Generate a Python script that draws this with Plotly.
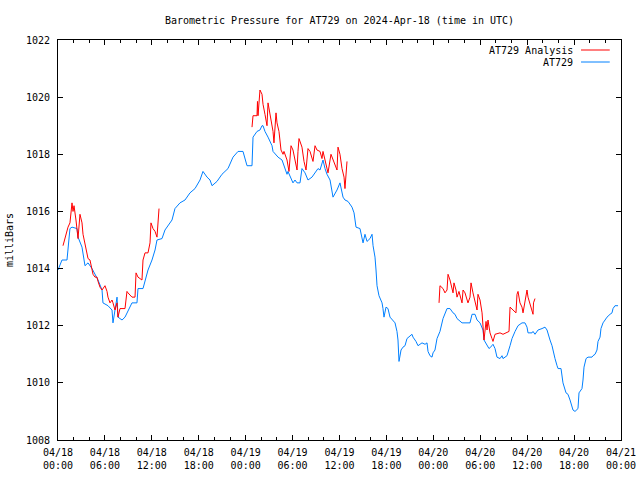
import pandas as pd
import plotly.graph_objects as go

START = pd.Timestamp("2024-04-18 00:00")

# AT729 observed pressure: hours since 04/18 00:00 UTC, millibars
obs_hours = [0.0, 0.51, 1.15, 1.53, 1.79, 2.43, 2.56, 3.07, 3.45, 3.84, 4.35, 4.73, 5.12, 5.63, 5.75,
             6.39, 6.91, 7.03, 7.29, 7.55, 7.67, 8.19, 8.57, 9.46, 10.1, 10.23, 10.87, 11.13, 11.51,
             12.02, 12.41, 12.66, 13.3, 13.68, 14.58, 14.96, 15.6, 16.24, 16.88, 17.52, 18.16, 18.54,
             19.06, 19.44, 19.7, 20.33, 20.97, 21.74, 22.38, 23.02, 23.66, 24.17, 24.81, 24.94, 25.45,
             25.83, 26.09, 26.22, 26.47, 26.86, 27.37, 27.5, 28.14, 28.65, 29.03, 29.29, 29.41, 29.93,
             30.05, 30.31, 30.57, 30.95, 31.2, 31.59, 31.97, 32.48, 32.87, 33.25, 33.51, 33.89, 34.15,
             34.4, 34.79, 35.17, 35.68, 36.06, 36.45, 36.7, 37.09, 37.6, 37.86, 38.11, 38.62, 38.88,
             39.01, 39.26, 39.52, 39.9, 40.16, 40.29, 40.54, 40.67, 40.8, 41.05, 41.44, 41.56, 41.69,
             41.95, 42.2, 42.46, 42.84, 43.1, 43.35, 43.48, 43.61, 43.87, 44.12, 44.38, 44.63, 45.02,
             45.27, 45.4, 45.78, 46.04, 46.55, 46.94, 47.19, 47.32, 47.57, 47.83, 47.96, 48.21, 48.47,
             48.85, 49.24, 49.75, 50.13, 50.52, 50.77, 51.03, 51.41, 51.67, 52.69, 52.95, 53.33, 53.59,
             53.97, 54.35, 54.48, 54.87, 55.12, 55.5, 55.63, 55.89, 56.14, 56.53, 56.78, 56.91, 57.42,
             57.81, 58.06, 58.45, 58.83, 59.34, 59.72, 59.98, 60.11, 60.62, 60.75, 61.0, 61.39, 61.9,
             62.28, 62.54, 62.67, 62.92, 63.18, 63.31, 63.56, 63.82, 63.95, 64.33, 64.46, 64.58, 64.97,
             65.22, 65.48, 65.74, 65.86, 66.12, 66.5, 66.63, 67.01, 67.14, 67.27, 67.53, 67.78, 68.29,
             68.42, 68.68, 68.93, 69.06, 69.32, 69.44, 69.7, 69.96, 70.21, 70.6, 70.85, 70.98, 71.23,
             71.62]
obs_mb = [1013.95, 1014.3, 1014.3, 1015.4, 1015.45, 1015.4, 1015.1, 1014.75, 1014.1, 1014.2, 1014.0,
          1013.8, 1013.6, 1013.25, 1012.8, 1012.7, 1012.55, 1012.1, 1012.5, 1013.0, 1012.3, 1012.2,
          1012.3, 1012.8, 1012.8, 1013.3, 1013.3, 1013.6, 1013.95, 1014.3, 1014.65, 1015.0, 1015.05,
          1015.35, 1015.7, 1016.1, 1016.3, 1016.4, 1016.65, 1016.8, 1017.1, 1017.4, 1017.2, 1017.1,
          1016.9, 1017.05, 1017.3, 1017.5, 1017.9, 1018.1, 1018.1, 1017.6, 1017.6, 1018.6, 1018.8,
          1018.85, 1019.0, 1019.0, 1018.8, 1018.6, 1018.3, 1018.1, 1017.9, 1017.8, 1017.5, 1017.3,
          1017.4, 1017.1, 1017.0, 1017.1, 1017.0, 1017.0, 1017.5, 1017.35, 1017.1, 1017.2, 1017.35,
          1017.5, 1017.45, 1017.8, 1017.5, 1017.3, 1017.1, 1016.5, 1016.75, 1017.0, 1016.5, 1016.4,
          1016.35, 1016.15, 1015.95, 1015.45, 1015.4, 1015.1, 1014.9, 1015.2, 1014.95, 1015.05,
          1015.2, 1014.8, 1014.4, 1013.95, 1013.4, 1013.05, 1012.8, 1012.6, 1012.3, 1012.65, 1012.6,
          1012.3, 1012.2, 1012.1, 1011.8, 1011.5, 1010.75, 1011.15, 1011.25, 1011.3, 1011.55, 1011.65,
          1011.7, 1011.6, 1011.45, 1011.3, 1011.4, 1011.35, 1011.4, 1011.1, 1010.95, 1010.9, 1011.05,
          1011.15, 1011.55, 1011.8, 1012.25, 1012.6, 1012.6, 1012.45, 1012.4, 1012.25, 1012.15,
          1012.1, 1012.1, 1012.4, 1012.4, 1012.2, 1012.1, 1011.85, 1011.5, 1011.3, 1011.2, 1011.3,
          1011.35, 1011.2, 1010.9, 1010.85, 1010.95, 1010.85, 1010.95, 1011.3, 1011.55, 1011.8,
          1012.0, 1012.1, 1012.1, 1011.95, 1011.75, 1011.75, 1011.8, 1011.7, 1011.85, 1011.9,
          1011.95, 1011.85, 1011.7, 1011.5, 1011.3, 1011.1, 1010.85, 1010.6, 1010.5, 1010.5, 1010.3,
          1010.0, 1009.65, 1009.6, 1009.4, 1009.2, 1009.05, 1009.0, 1009.1, 1009.65, 1009.8, 1010.1,
          1010.55, 1010.85, 1010.9, 1010.9, 1010.95, 1011.0, 1011.15, 1011.45, 1011.6, 1011.9,
          1012.1, 1012.2, 1012.3, 1012.4, 1012.45, 1012.6, 1012.7, 1012.7]

# AT729 Analysis: three forecast segments (None = gap)
ana_hours = [0.64, 0.9, 1.15, 1.28, 1.53, 1.79, 1.92, 2.05, 2.3, 2.43, 2.56, 2.81, 3.07, 3.2, 3.45,
             3.71, 3.84, 4.09, 4.35, 4.48, 4.73, 4.99, 5.12, 5.37, 5.63, 5.75, 6.01, 6.27, 6.39, 6.65,
             6.91, 7.03, 7.29, 7.55, 7.67, 7.93, 8.57, 8.82, 8.95, 9.46, 9.85, 9.98, 10.23, 10.74,
             10.87, 11.13, 11.51, 11.77, 11.89, 12.15, 12.41, 12.66, 12.79, 12.92,
             None,
             24.81, 24.87, 24.94, 25.45, 25.51, 25.58, 25.83, 26.09, 26.22, 26.47, 26.73, 26.86,
             27.11, 27.37, 27.5, 27.62, 27.88, 28.01, 28.26, 28.52, 28.78, 28.9, 29.29, 29.54, 29.8,
             30.05, 30.31, 30.57, 30.69, 30.82, 31.2, 31.46, 31.72, 31.97, 32.23, 32.61, 32.87, 33.12,
             33.51, 33.76, 33.89, 34.27, 34.53, 34.91, 35.17, 35.68, 35.81, 36.06, 36.32, 36.58, 36.7,
             36.96,
             None,
             48.73, 48.85, 49.24, 49.49, 49.75, 49.88, 50.13, 50.39, 50.52, 50.64, 50.9, 51.03, 51.28,
             51.67, 51.8, 52.05, 52.31, 52.43, 52.69, 52.82, 53.07, 53.33, 53.59, 53.71, 53.97, 54.23,
             54.35, 54.48, 54.74, 54.87, 54.99, 55.25, 55.5, 55.63, 55.89, 56.53, 56.91, 57.42, 57.68,
             57.81, 58.19, 58.57, 58.7, 58.83, 59.08, 59.34, 59.47, 59.72, 59.98, 60.11, 60.37, 60.62,
             60.75, 60.81, 61.0]
ana_mb = [1014.8, 1015.1, 1015.35, 1015.45, 1015.6, 1016.3, 1016.0, 1016.2, 1015.7, 1015.45, 1015.05,
          1015.9, 1015.6, 1015.2, 1014.9, 1014.5, 1014.35, 1014.3, 1013.95, 1013.8, 1013.7, 1013.7,
          1013.55, 1013.35, 1013.25, 1013.3, 1013.4, 1013.2, 1013.0, 1012.8, 1012.9, 1012.8, 1012.55,
          1012.8, 1012.3, 1012.6, 1012.6, 1013.2, 1013.15, 1013.0, 1013.0, 1013.85, 1013.7, 1013.6,
          1014.3, 1014.55, 1014.55, 1014.9, 1015.6, 1015.4, 1015.3, 1015.1, 1015.65, 1016.1,
          None,
          1018.95, 1019.2, 1019.35, 1019.35, 1019.85, 1019.35, 1020.25, 1020.1, 1019.75, 1019.4,
          1019.0, 1019.8, 1019.45, 1019.0, 1018.8, 1018.4, 1019.45, 1019.1, 1018.8, 1018.15, 1018.0,
          1018.1, 1017.8, 1017.4, 1018.3, 1018.15, 1017.8, 1017.45, 1018.1, 1018.55, 1018.25,
          1017.75, 1017.45, 1018.2, 1018.1, 1017.75, 1018.3, 1018.15, 1018.1, 1017.85, 1018.1,
          1017.7, 1017.35, 1018.0, 1017.8, 1017.45, 1018.25, 1018.0, 1017.5, 1017.2, 1016.8, 1017.75,
          None,
          1012.8, 1013.4, 1013.3, 1013.15, 1013.25, 1013.8, 1013.6, 1013.35, 1013.15, 1013.5, 1013.25,
          1013.0, 1013.2, 1012.8, 1013.25, 1013.15, 1012.9, 1012.8, 1013.0, 1013.5, 1013.15, 1012.8,
          1012.55, 1013.1, 1012.9, 1012.45, 1011.8, 1011.5, 1012.15, 1011.85, 1012.2, 1011.75,
          1011.55, 1011.45, 1011.7, 1011.75, 1011.7, 1011.75, 1011.8, 1012.65, 1012.55, 1012.45,
          1013.1, 1013.2, 1012.8, 1012.65, 1012.45, 1012.8, 1013.25, 1013.0, 1012.75, 1012.45,
          1012.4, 1012.8, 1012.95]

tick_hours = [0, 6, 12, 18, 24, 30, 36, 42, 48, 54, 60, 66, 72]
tick_dates = ["04/18", "04/18", "04/18", "04/18", "04/19", "04/19", "04/19", "04/19",
              "04/20", "04/20", "04/20", "04/20", "04/21"]
tick_times = ["00:00", "06:00", "12:00", "18:00", "00:00", "06:00", "12:00", "18:00",
              "00:00", "06:00", "12:00", "18:00", "00:00"]
y_ticks = [1008, 1010, 1012, 1014, 1016, 1018, 1020, 1022]

RED = "#ff0000"
BLUE = "#0080ff"
FONT = "DejaVu Sans Mono"


def to_time(hours):
    return [None if h is None else START + pd.Timedelta(hours=h) for h in hours]


fig = go.Figure()
fig.add_trace(go.Scatter(x=to_time(obs_hours), y=obs_mb, mode="lines", name="AT729",
                         line=dict(color=BLUE, width=1), showlegend=False))
fig.add_trace(go.Scatter(x=to_time(ana_hours), y=ana_mb, mode="lines", name="AT729 Analysis",
                         line=dict(color=RED, width=1), showlegend=False, connectgaps=False))

# gnuplot-style key: text on the left, line sample on the right
legend_items = [("AT729 Analysis", RED, 0.975), ("AT729", BLUE, 0.945)]
for label, color, yp in legend_items:
    fig.add_annotation(x=0.918, y=yp, xref="paper", yref="paper", text=label, showarrow=False,
                       xanchor="right", yanchor="middle", font=dict(family=FONT, size=10, color="black"))
    fig.add_shape(type="line", xref="paper", yref="paper", x0=0.929, x1=0.980, y0=yp, y1=yp,
                  line=dict(color=color, width=1))

fig.update_layout(
    width=640, height=480,
    margin=dict(l=58, r=19, t=40, b=40, autoexpand=False),
    paper_bgcolor="white", plot_bgcolor="white",
    font=dict(family=FONT, size=10, color="black"),
    title=dict(text="Barometric Pressure for AT729 on 2024-Apr-18 (time in UTC)",
               x=0.5, xref="paper", xanchor="center", y=1 - 20 / 480, yanchor="middle",
               font=dict(family=FONT, size=10, color="black"), automargin=False),
    showlegend=False,
)
fig.update_xaxes(
    type="date",
    range=[START, START + pd.Timedelta(hours=72)],
    tickvals=to_time(tick_hours),
    ticktext=[f"{d}<br>{t}" for d, t in zip(tick_dates, tick_times)],
    ticks="inside", ticklen=5, tickcolor="black", tickwidth=1,
    minor=dict(dtick=2 * 3600 * 1000, ticks="inside", ticklen=3, tickcolor="black", tickwidth=1,
               showgrid=False),
    showline=True, linecolor="black", linewidth=1, mirror="allticks",
    showgrid=False, zeroline=False, automargin=False,
    ticklabelstandoff=3,
    tickfont=dict(family=FONT, size=10, color="black"),
)
fig.update_yaxes(
    range=[1008, 1022],
    tickvals=y_ticks,
    ticks="inside", ticklen=5, tickcolor="black", tickwidth=1,
    showline=True, linecolor="black", linewidth=1, mirror="allticks",
    showgrid=False, zeroline=False, automargin=False,
    ticklabelstandoff=5,
    tickfont=dict(family=FONT, size=10, color="black"),
    title=dict(text="milliBars", standoff=10, font=dict(family=FONT, size=10, color="black")),
)

fig.write_html("out.html",
               config={"displayModeBar": False, "staticPlot": True},
               post_script="document.body.style.margin='0';document.body.style.overflow='hidden';")
